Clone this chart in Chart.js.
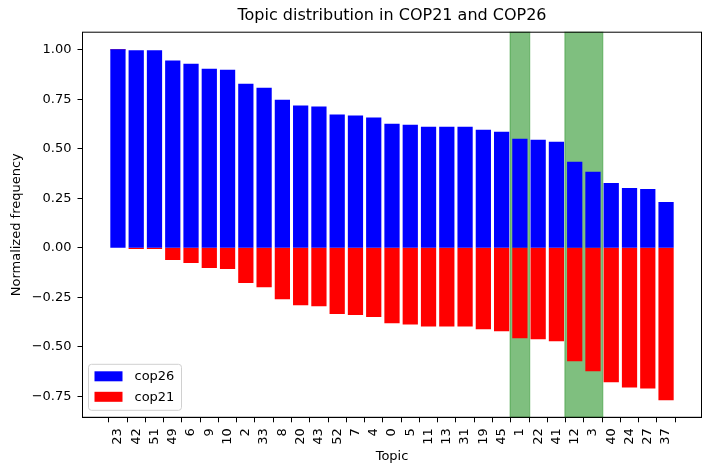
<!DOCTYPE html>
<html>
<head>
<meta charset="utf-8">
<script src="https://cdn.jsdelivr.net/npm/chart.js@4.4.1/dist/chart.umd.min.js"></script>
<style>
  body { margin: 0; background: #fff; }
</style>
</head>
<body>
<canvas id="topic-chart" width="711" height="474"></canvas>
<script>
// data
var topics = ['23','42','51','49','6','9','10','2','33','8','20','43','52','7','4','0','5','11','13','31','19','45','1','22','41','12','3','40','24','27','37'];
var cop26 = [1.000,0.995,0.995,0.943,0.927,0.901,0.896,0.826,0.806,0.745,0.716,0.711,0.670,0.665,0.655,0.624,0.619,0.609,0.609,0.609,0.594,0.584,0.548,0.543,0.533,0.432,0.381,0.325,0.300,0.295,0.229];
var cop21 = [0,-0.004,-0.004,-0.059,-0.074,-0.099,-0.104,-0.175,-0.196,-0.257,-0.287,-0.292,-0.332,-0.337,-0.347,-0.378,-0.384,-0.394,-0.394,-0.394,-0.409,-0.419,-0.454,-0.459,-0.469,-0.570,-0.621,-0.676,-0.702,-0.707,-0.767];
var yTicks = [-0.75,-0.5,-0.25,0,0.25,0.5,0.75,1.0];
// highlighted topic groups (green bands)
var highlight = [['1'], ['12','3']];

var FONT = 'DejaVu Sans';

// matplotlib-like limits: bar width 0.8, 5% margins
var xLo = -0.4, xHi = topics.length - 1 + 0.4;
var xPad = (xHi - xLo) * 0.05;
var yLo = Math.min(0, Math.min.apply(null, cop21)), yHi = Math.max.apply(null, cop26);
var yPad = (yHi - yLo) * 0.05;

var bandsPlugin = {
    id: 'bands',
    beforeDatasetsDraw: function(chart) {
        var ctx = chart.ctx, area = chart.chartArea, x = chart.scales.x;
        ctx.save();
        highlight.forEach(function(group) {
            var idx = group.map(function(t){ return topics.indexOf(t); });
            var a = x.getPixelForValue(Math.min.apply(null, idx) - 0.54);
            var b = x.getPixelForValue(Math.max.apply(null, idx) + 0.54);
            ctx.fillStyle = 'rgba(0,128,0,0.5)';
            ctx.fillRect(a, area.top, b - a, area.bottom - area.top);
            ctx.strokeStyle = 'rgba(0,128,0,0.35)';
            ctx.lineWidth = 1.2;
            ctx.strokeRect(a, area.top, b - a, area.bottom - area.top);
        });
        ctx.restore();
    },
    afterDraw: function(chart) {
        var ctx = chart.ctx, area = chart.chartArea;
        ctx.save();
        // frame
        ctx.strokeStyle = '#000';
        ctx.lineWidth = 1;
        ctx.strokeRect(area.left, area.top, area.right - area.left, area.bottom - area.top);
        // legend, lower left inside the axes
        var lx = area.left + 6, ly = area.bottom - 53, lw = 93, lh = 46;
        ctx.fillStyle = 'rgba(255,255,255,0.8)';
        ctx.strokeStyle = '#d0d0d0';
        ctx.beginPath();
        ctx.roundRect(lx, ly, lw, lh, 3);
        ctx.fill();
        ctx.stroke();
        ctx.font = '13px "' + FONT + '"';
        ctx.textBaseline = 'middle';
        chart.data.datasets.forEach(function(ds, i) {
            var y = ly + 7 + i * 20.5;
            ctx.fillStyle = ds.backgroundColor;
            ctx.fillRect(lx + 6, y, 28, 10);
            ctx.fillStyle = '#000';
            ctx.fillText(ds.label, lx + 46, y + 5.5);
        });
        ctx.restore();
    }
};

const ctx = document.getElementById('topic-chart').getContext('2d');
var chart = new Chart(ctx, {
    type: 'bar',
    data: {
        datasets: [
            {
                label: 'cop26',
                data: topics.map(function(t, i){ return {x: i, y: cop26[i]}; }),
                backgroundColor: '#0000ff',
                borderWidth: 0,
                inflateAmount: 0.5,
            },
            {
                label: 'cop21',
                data: topics.map(function(t, i){ return {x: i, y: cop21[i]}; }),
                backgroundColor: '#ff0000',
                borderWidth: 0,
                inflateAmount: 0.5,
                skipNull: true,
            },
        ],
    },
    plugins: [bandsPlugin],
    options: {
        responsive: false,
        animation: false,
        barPercentage: 0.78,
        categoryPercentage: 1.0,
        layout: { padding: { top: 0.5, left: 4, right: 9.5, bottom: 6 } },
        plugins: {
            legend: { display: false },
            tooltip: { enabled: false },
            title: {
                display: true,
                fullSize: false,
                text: 'Topic distribution in COP21 and COP26',
                color: '#000',
                font: { family: FONT, size: 16, weight: 'normal' },
                padding: { top: 6, bottom: 6.5 },
            },
        },
        scales: {
            x: {
                type: 'linear',
                stacked: true,
                offset: false,
                min: xLo - xPad,
                max: xHi + xPad,
                afterBuildTicks: function(axis) {
                    axis.ticks = topics.map(function(t, i){ return {value: i}; });
                },
                afterFit: function(axis) { axis.height = 474 - 417.3 - 6; },
                grid: { display: true, drawOnChartArea: false, drawTicks: true, tickLength: 5, color: '#000' },
                border: { display: true, color: '#000' },
                ticks: {
                    autoSkip: false,
                    maxRotation: 90,
                    minRotation: 90,
                    padding: 6,
                    color: '#000',
                    font: { family: FONT, size: 13 },
                    callback: function(value) { return topics[value]; }
                },
                title: {
                    display: true,
                    text: 'Topic',
                    color: '#000',
                    font: { family: FONT, size: 13 },
                    padding: { top: 0, bottom: 4 },
                },
            },
            y: {
                stacked: true,
                min: yLo - yPad,
                max: yHi + yPad,
                afterBuildTicks: function(axis) {
                    axis.ticks = yTicks.map(function(v){ return {value: v}; });
                },
                afterFit: function(axis) { axis.width = 82.5 - 4; },
                grid: { display: true, drawOnChartArea: false, drawTicks: true, tickLength: 5, color: '#000' },
                border: { display: true, color: '#000' },
                ticks: {
                    padding: 6,
                    color: '#000',
                    font: { family: FONT, size: 13 },
                    callback: function(value) {
                        var s = Math.abs(value).toFixed(2);
                        return value < 0 ? '\u2212' + s : s;
                    }
                },
                title: {
                    display: true,
                    text: 'Normalized frequency',
                    color: '#000',
                    font: { family: FONT, size: 13 },
                    padding: { top: 5, bottom: 0 },
                },
            },
        },
    },
});
</script>
</body>
</html>
